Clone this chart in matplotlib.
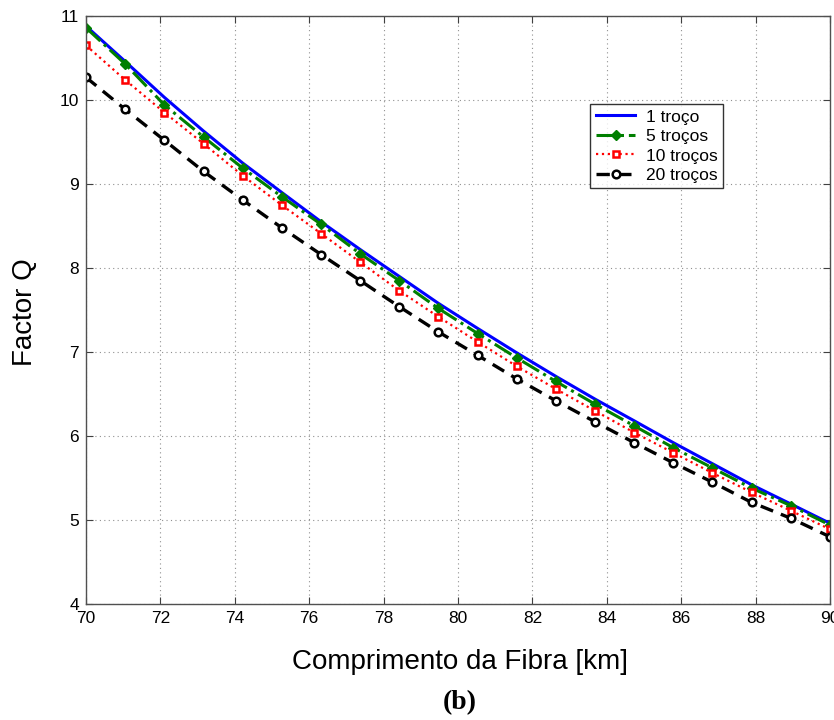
import numpy as np
import matplotlib
matplotlib.use("Agg")
import matplotlib.pyplot as plt

# fibre length at the marker positions (km)
comprimento = [70, 71.05, 72.11, 73.16, 74.21, 75.26, 76.32, 77.37, 78.42, 79.47,
               80.53, 81.58, 82.63, 83.68, 84.74, 85.79, 86.84, 87.89, 88.95, 90]

q_1 = [10.88, 10.46, 10.03, 9.63, 9.25, 8.90, 8.55, 8.22, 7.90, 7.58,
       7.28, 6.99, 6.71, 6.44, 6.18, 5.92, 5.67, 5.42, 5.19, 4.96]
q_5 = [10.86, 10.43, 9.94, 9.56, 9.19, 8.85, 8.52, 8.17, 7.85, 7.52,
       7.22, 6.93, 6.65, 6.38, 6.12, 5.86, 5.62, 5.38, 5.17, 4.94]
q_10 = [10.65, 10.24, 9.85, 9.48, 9.10, 8.75, 8.41, 8.07, 7.73, 7.42,
        7.12, 6.83, 6.56, 6.30, 6.04, 5.80, 5.56, 5.33, 5.11, 4.89]
q_20 = [10.27, 9.89, 9.52, 9.15, 8.81, 8.48, 8.16, 7.85, 7.54, 7.24,
        6.96, 6.68, 6.42, 6.17, 5.92, 5.68, 5.45, 5.21, 5.02, 4.80]

labels = ['1 troço', '5 troços', '10 troços', '20 troços']
x_ticks = [70, 72, 74, 76, 78, 80, 82, 84, 86, 88, 90]
y_ticks = [4, 5, 6, 7, 8, 9, 10, 11]

plt.rcParams['font.family'] = ['Liberation Sans', 'DejaVu Sans']

fig = plt.figure(figsize=(8.34, 7.2), dpi=100)
ax = fig.add_axes([86 / 834, 1 - 604 / 720, 744 / 834, 588 / 720])

ax.plot(comprimento, q_1, color='#0000ff', lw=2.2, label=labels[0])
ax.plot(comprimento, q_5, color='#007f00', lw=2.2, ls='-.', marker='D',
        ms=5.5, mfc='#007f00', mec='#007f00', label=labels[1])
ax.plot(comprimento, q_10, color='#ff0000', lw=1.6, ls=':', marker='s',
        ms=5, mfc='white', mec='#ff0000', mew=1.8, label=labels[2])
ax.plot(comprimento, q_20, color='black', lw=2.4, ls=(0, (4, 2.5)), marker='o',
        ms=5.5, mfc='white', mec='black', mew=1.8, label=labels[3])

ax.set_xlim(70, 90)
ax.set_ylim(4, 11)
ax.set_xticks(x_ticks)
ax.set_yticks(y_ticks)
ax.tick_params(direction='in', top=True, right=True, length=5, labelsize=12.5,
               pad=5, color='#404040')
ax.grid(True, color='#909090', ls=(0, (1, 3)), lw=0.8)

for s in ax.spines.values():
    s.set_color('#505050')
    s.set_linewidth(1.0)

leg = ax.legend(loc='upper right', bbox_to_anchor=(0.856, 0.85), fontsize=12.5,
                frameon=True, fancybox=False, edgecolor='black',
                handlelength=2.3, handletextpad=0.6, borderpad=0.3,
                labelspacing=0.25, borderaxespad=0)
leg.get_frame().set_linewidth(1.0)

fig.text(25 / 834, 1 - 312 / 720, 'Factor Q', rotation=90, fontsize=20,
         ha='center', va='center')
fig.text(0.5 + 43 / 834, 1 - 662 / 720, 'Comprimento da Fibra [km]', fontsize=20,
         ha='center', va='center')
fig.text(0.5 + 43 / 834, 1 - 703 / 720, '(b)', fontsize=20, fontweight='bold',
         family='Liberation Serif', ha='center', va='center')

fig.savefig('out.png', dpi=100)
